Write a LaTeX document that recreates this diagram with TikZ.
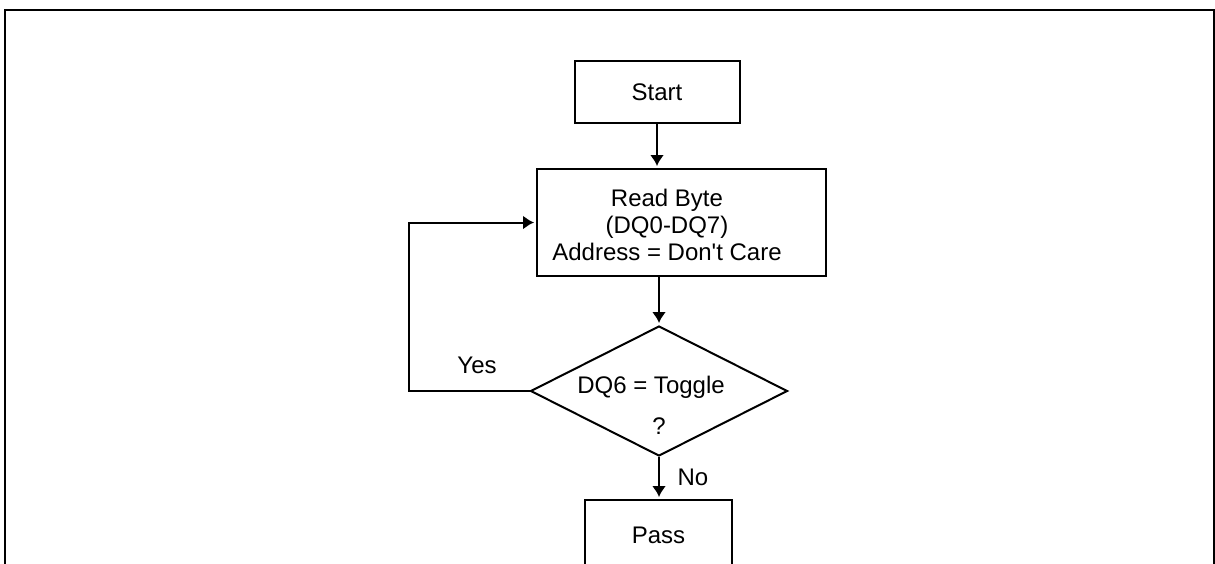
\documentclass[tikz,border=0pt]{standalone}
\usepackage{fontspec}
\setmainfont{Liberation Sans}
\usetikzlibrary{arrows.meta,shapes.geometric,positioning}

\begin{document}
\begin{tikzpicture}[x=0.5pt, y=-0.5pt, ->, >={Latex[length=5.5pt,width=7pt]}, shorten >=1pt, line width=1pt,
    box/.style={rectangle, draw, inner sep=0pt},
    test/.style={diamond, draw, inner sep=0pt, minimum width=128.5pt, minimum height=65pt}]

      \tikzstyle{every node}=[font=\fontsize{12}{13.5}\selectfont]
      \path[-, use as bounding box, clip] (0,0) rectangle (1215,563);
      \draw[-, line width=0.9pt] (5,570) -- (5,10) -- (1214,10) -- (1214,570);

      \node[box, minimum width=82.5pt, minimum height=31pt] (start) at (657,92) {Start};
      \node[box, minimum width=144.5pt, minimum height=53.5pt] (read) at (681.5,222.5) {};
      \node[align=center] (readtxt) at (667,225) {Read Byte\\(DQ0-DQ7)\\Address = Don\textquotesingle t Care};
      \node[test] (toggle) at (659,391) {};
      \node (toggletxt) at (651,387) {DQ6 = Toggle};
      \node (q) at (659,426) {?};
      \node[box, minimum width=73.5pt, minimum height=35pt] (pass) at (658.5,535) {Pass};
      \coordinate (back) at (409,391);

      \path
      (start) edge (start |- read.north)
      (read.south -| toggle.north) edge (toggle)
      (toggle) edge (toggle |- pass.north);
      \draw (toggle.west) -- (back) |- (read.west);
      \node (yes) at (477,365) {Yes};
      \node (no) at (693,477) {No};
    \end{tikzpicture}
\end{document}
